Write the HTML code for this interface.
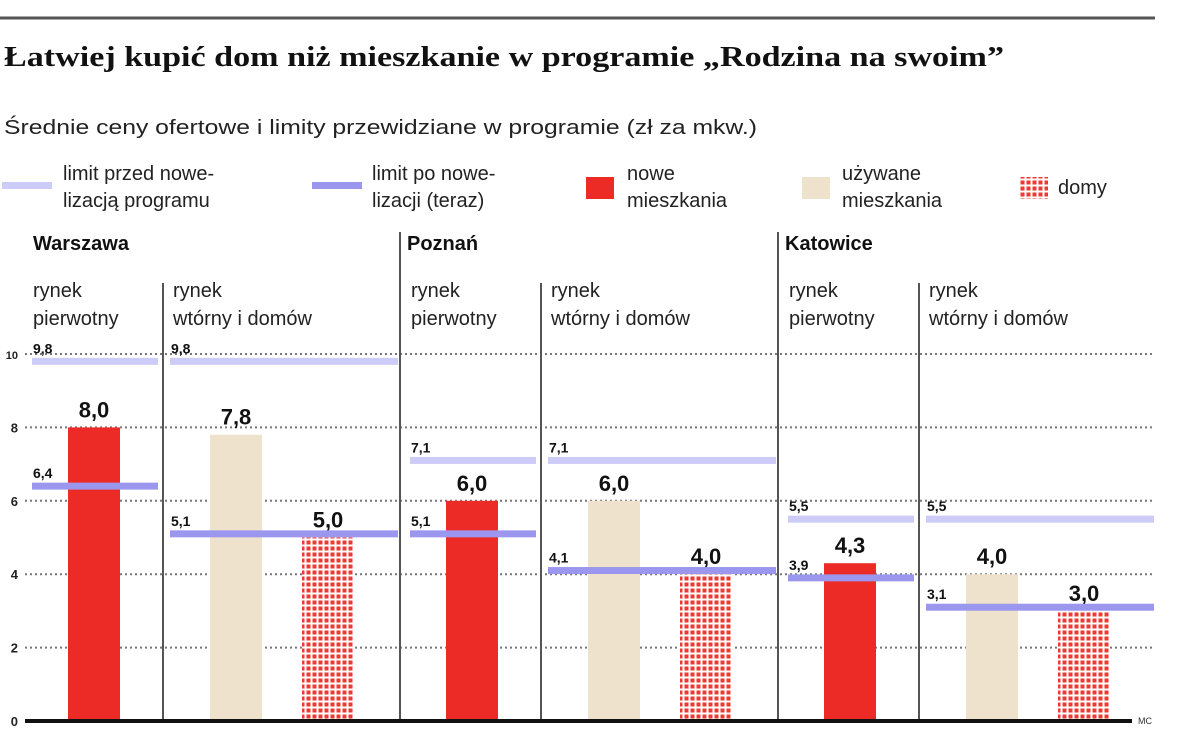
<!DOCTYPE html>
<html><head><meta charset="utf-8"><style>
body{margin:0;background:#fff}
svg{display:block}
text{font-family:"Liberation Sans",sans-serif}
text.serif{font-family:"Liberation Serif",serif}
</style></head><body>
<svg id="c" width="1200" height="746" viewBox="0 0 1200 746">
<defs>
<pattern id="dots" width="6" height="6" patternUnits="userSpaceOnUse"><rect width="6" height="6" fill="#fff"/><rect x="0.5" y="0.5" width="4" height="4" fill="#ec3a32"/></pattern>
</defs>
<line x1="0" y1="18" x2="1155" y2="18" stroke="#555" stroke-width="3"/>
<text class="serif" x="4" y="66" font-weight="bold" font-size="28" textLength="1000" lengthAdjust="spacingAndGlyphs" fill="#111">Łatwiej kupić dom niż mieszkanie w programie „Rodzina na swoim”</text>
<text x="4" y="134" font-size="20" textLength="753" lengthAdjust="spacingAndGlyphs" fill="#222">Średnie ceny ofertowe i limity przewidziane w programie (zł za mkw.)</text>
<g font-size="20" fill="#222">
<g><rect x="2" y="182" width="50" height="7" fill="#cdcbf7"/><text x="63" y="180">limit przed nowe-</text><text x="63" y="207">lizacją programu</text></g>
<g><rect x="312" y="182" width="50" height="7" fill="#9b97ee"/><text x="372" y="180">limit po nowe-</text><text x="372" y="207">lizacji (teraz)</text></g>
<g><rect x="586" y="177" width="28" height="22" fill="#ec2a26"/><text x="627" y="180">nowe</text><text x="627" y="207">mieszkania</text></g>
<g><rect x="802" y="177" width="28" height="22" fill="#efe2cc"/><text x="842" y="180">używane</text><text x="842" y="207">mieszkania</text></g>
<g><rect x="1020" y="177" width="28" height="22" fill="url(#dots)"/><text x="1058" y="194">domy</text></g>
</g>
<g id="plot"></g>
</svg>
<script>
const cities = ["Warszawa", "Poznań", "Katowice"];
const newFlats = [8.0, 6.0, 4.3];
const usedFlats = [7.8, 6.0, 4.0];
const houses = [5.0, 4.0, 3.0];
const limitBeforePrimary = [9.8, 7.1, 5.5];
const limitAfterPrimary = [6.4, 5.1, 3.9];
const limitBeforeSecondary = [9.8, 7.1, 5.5];
const limitAfterSecondary = [5.1, 4.1, 3.1];
const yTicks = [0, 2, 4, 6, 8, 10];

const NS = "http://www.w3.org/2000/svg";
const plot = document.getElementById("plot");
const y = v => 721 - 36.7 * v;
const groupX = i => 25 + i * 378;
function mk(tag, attrs, parent) {
  const e = document.createElementNS(NS, tag);
  for (const k in attrs) e.setAttribute(k, attrs[k]);
  (parent || plot).appendChild(e);
  return e;
}
const fmt = v => v.toFixed(1).replace(".", ",");
yTicks.forEach(t => {
  if (t > 0) {
    const g = mk("line", {x1: 25, x2: 1155, y1: y(t), y2: y(t), stroke: "#777", "stroke-width": 2, "stroke-dasharray": "2 3"});
    
    
  }
  const tx = mk("text", {x: 18, y: y(t) + 5, "text-anchor": "end", "font-size": t === 10 ? 11 : 13, "font-weight": "bold", fill: "#222"});
  tx.textContent = String(t);
  
  
});
cities.forEach((c, i) => {
  const gx = groupX(i);
  if (i > 0) {
    const s = mk("line", {x1: gx - 3, x2: gx - 3, y1: 232, y2: 722, stroke: "#555", "stroke-width": 2});
    
    
  }
  const sub = mk("line", {x1: gx + 138, x2: gx + 138, y1: 283, y2: 722, stroke: "#555", "stroke-width": 2});
  
  
  const ct = mk("text", {x: gx + (i === 0 ? 8 : 4), y: 250, "font-size": 20, "font-weight": "bold", fill: "#111"});
  ct.textContent = c;
  
  
  [["rynek", "pierwotny", gx + 8], ["rynek", "wtórny i domów", gx + 148]].forEach(([a, b, x]) => {
    const t1 = mk("text", {x, y: 297, "font-size": 20, fill: "#222"}); t1.textContent = a;
    
    
    const t2 = mk("text", {x, y: 325, "font-size": 20, fill: "#222"}); t2.textContent = b;
    
    
  });
  [[newFlats[i], gx + 43, "#ec2a26", "bar-new"], [usedFlats[i], gx + 185, "#efe2cc", "bar-used"], [houses[i], gx + 277, "url(#dots)", "bar-houses"]].forEach(([v, x, f, n]) => {
    const r = mk("rect", {x, y: y(v), width: 52, height: y(0) - y(v), fill: f});
    
    
    const l = mk("text", {x: x + 26, y: y(v) - 10, "text-anchor": "middle", "font-size": 22, "font-weight": "bold", fill: "#111"});
    l.textContent = fmt(v);
    
    
  });
  [[limitBeforePrimary[i], gx + 7, gx + 133, "#cdcbf7", "limit-before-primary"], [limitAfterPrimary[i], gx + 7, gx + 133, "#9b97ee", "limit-after-primary"],
   [limitBeforeSecondary[i], gx + 145, gx + 373, "#cdcbf7", "limit-before-secondary"], [limitAfterSecondary[i], gx + 145, gx + 373, "#9b97ee", "limit-after-secondary"]].forEach(([v, x1, x2, col, n]) => {
    const ln = mk("rect", {x: x1, y: y(v) - 3.5, width: x2 - x1, height: 7, fill: col});
    
    
    const lt = mk("text", {x: x1 + 1, y: y(v) - 8, "font-size": 14, "font-weight": "bold", fill: "#111"});
    lt.textContent = fmt(v);
    
    
  });
});
const base = mk("line", {x1: 25, x2: 1132, y1: y(0), y2: y(0), stroke: "#111", "stroke-width": 4});


const mc = mk("text", {x: 1138, y: 724, "font-size": 9, fill: "#333"});
mc.textContent = "MC";


</script>
</body></html>
